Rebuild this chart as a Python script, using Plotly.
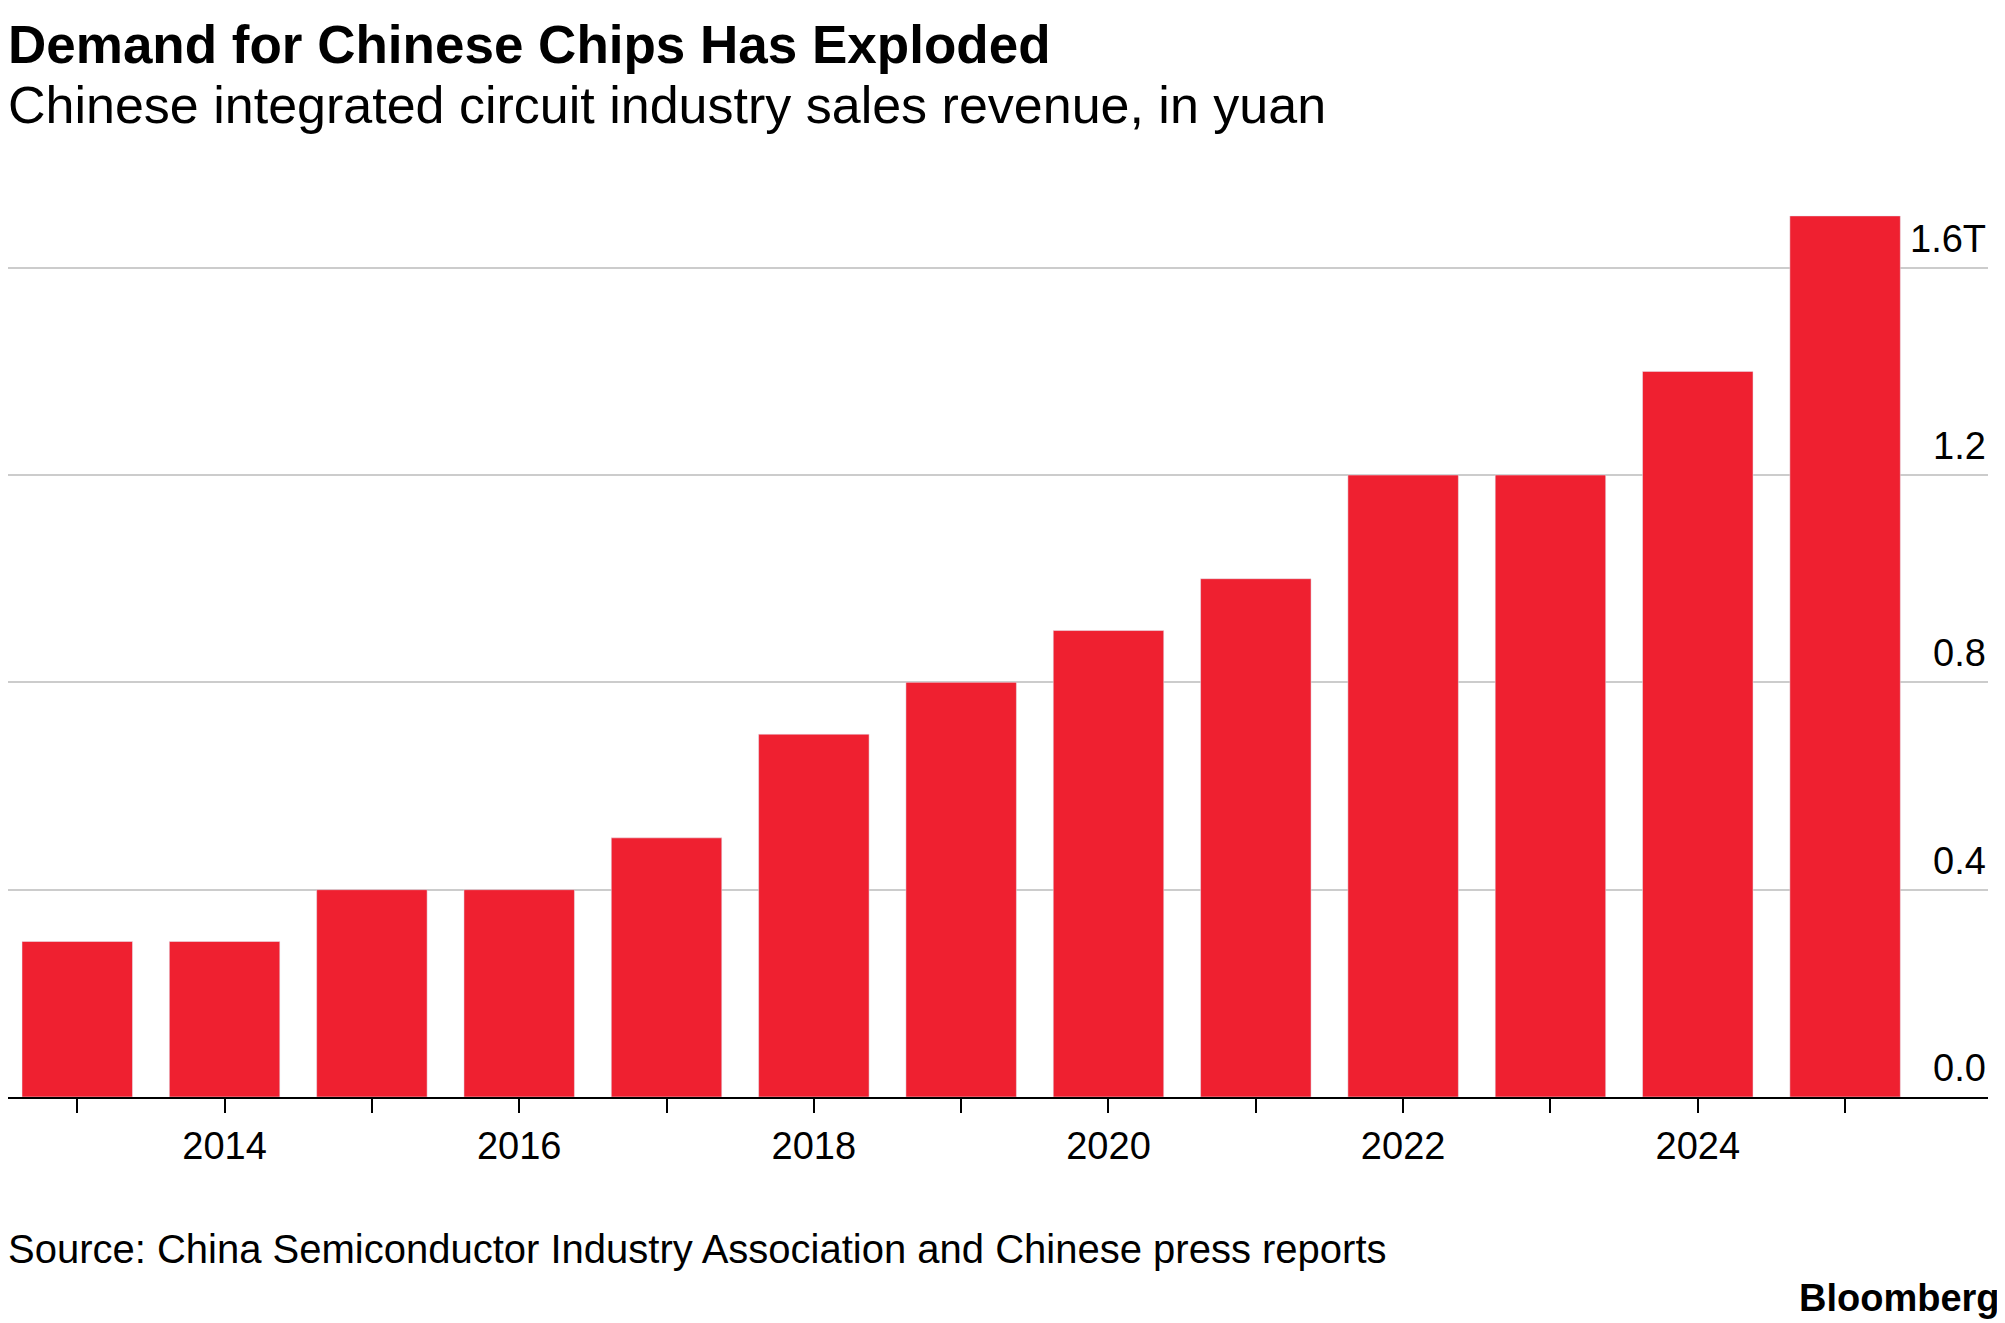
import plotly.graph_objects as go

years = list(range(2013, 2026))
revenue = [0.3, 0.3, 0.4, 0.4, 0.5, 0.7, 0.8, 0.9, 1.0, 1.2, 1.2, 1.4, 1.7]
y_ticks = [0.0, 0.4, 0.8, 1.2, 1.6]
y_labels = ["0.0", "0.4", "0.8", "1.2", "1.6T"]
x_labels = [str(y) if y % 2 == 0 else "" for y in years]

F = "Liberation Sans, Arial, sans-serif"
T, B = 182, 234
fig = go.Figure(go.Bar(x=years, y=revenue, marker_color="#EF2030", width=0.75))

fig.update_layout(
    width=2005, height=1323, paper_bgcolor="white", plot_bgcolor="white",
    margin=dict(l=0, r=25, t=T, b=B), showlegend=False,
    font=dict(family=F, color="black"),
)
fig.update_xaxes(range=[2012.53, 2025.97], tickvals=years, ticktext=x_labels,
                 ticks="outside", ticklen=14, tickcolor="black", tickwidth=2,
                 tickfont=dict(size=38), showgrid=False, showline=True,
                 linecolor="black", linewidth=2, zeroline=False)
fig.update_yaxes(range=[0, 1.75], tickvals=y_ticks, showticklabels=False,
                 showgrid=True, gridcolor="#cccccc", gridwidth=2, zeroline=False)

for v, t in zip(y_ticks, y_labels):
    fig.add_annotation(x=1, xref="paper", y=v, yref="y", text=t, showarrow=False,
                       xanchor="right", yanchor="bottom", yshift=6,
                       font=dict(size=38), align="right")

def py(p):
    return (1323 - B - p) / (1323 - T - B)

fig.add_annotation(x=0, xref="paper", xshift=-2, y=py(36), yref="paper",
                   text="<b>Demand for Chinese Chips Has Exploded</b>",
                   showarrow=False, xanchor="left", yanchor="middle", font=dict(size=53))
fig.add_annotation(x=0, xref="paper", xshift=-2, y=py(97), yref="paper",
                   text="Chinese integrated circuit industry sales revenue, in yuan",
                   showarrow=False, xanchor="left", yanchor="middle", font=dict(size=52))
fig.add_annotation(x=0, xref="paper", xshift=-2, y=py(1241), yref="paper",
                   text="Source: China Semiconductor Industry Association and Chinese press reports",
                   showarrow=False, xanchor="left", yanchor="middle", font=dict(size=40))
fig.add_annotation(x=1, xref="paper", xshift=14, y=py(1290), yref="paper",
                   text="<b>Bloomberg</b>", showarrow=False, xanchor="right",
                   yanchor="middle", font=dict(size=38))

fig.write_html("out.html")
